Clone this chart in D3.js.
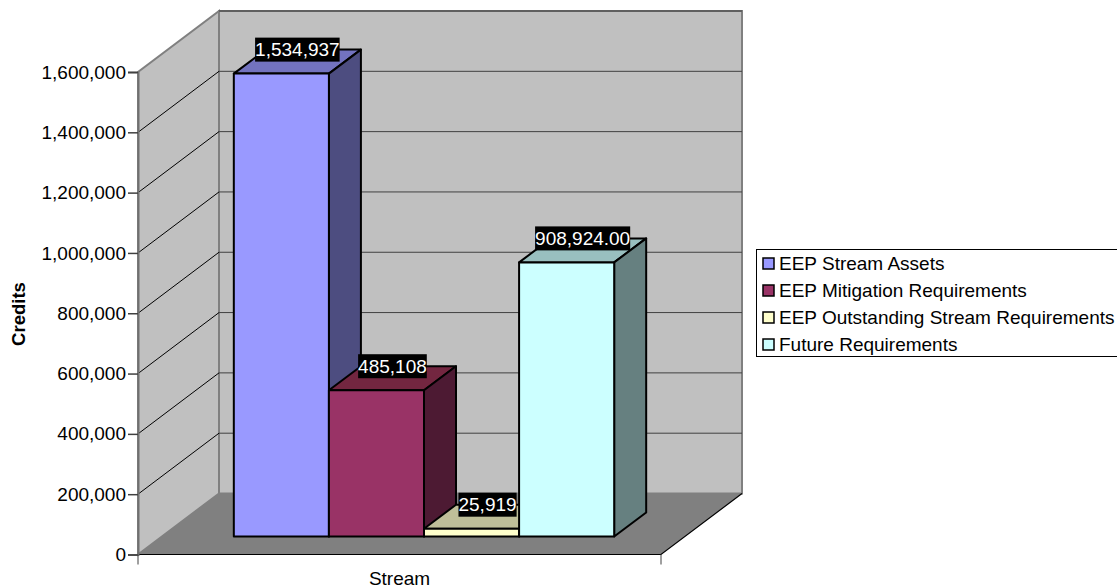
<!DOCTYPE html>
<html>
<head>
<meta charset="utf-8">
<script src="https://d3js.org/d3.v7.min.js"></script>
<style>
    html, body { margin: 0; padding: 0; background: #fff; }
    svg { display: block; }
    text { font-family: "Liberation Sans", Arial, sans-serif; fill: #000; }
</style>
</head>
<body>
<div id="chart"></div>
<script>
var seriesNames = ['EEP Stream Assets', 'EEP Mitigation Requirements', 'EEP Outstanding Stream Requirements', 'Future Requirements'];
var seriesValues = [1534937, 485108, 25919, 908924];
var valueLabels = ['1,534,937', '485,108', '25,919', '908,924.00'];
var seriesColors = ['#9999ff', '#993366', '#ffffcc', '#ccffff'];
var topColors = ['#7373bf', '#732640', '#bfbf99', '#99bfbf'];
var sideColors = ['#4d4d80', '#4d1a33', '#808066', '#668080'];
var yTicks = [0, 200000, 400000, 600000, 800000, 1000000, 1200000, 1400000, 1600000];
var categoryName = 'Stream';
var yTitle = 'Credits';

var width = 1117, height = 588;

// front plane of the box and how far the back wall is pushed
var plotLeft = 138, plotRight = 661, plotBottom = 554.5, plotTop = 72;
var wallDx = 81, wallDy = -61;
// bars stand a bit in from the front, and have their own depth
var barDx = 24.5, barDy = -18, depthDx = 32, depthDy = -24;

var svg = d3.select('#chart').append('svg')
    .attr('width', width)
    .attr('height', height);

var y = d3.scaleLinear().domain([0, 1600000]).range([plotBottom, plotTop]);
var x = d3.scaleBand().domain(seriesNames).range([plotLeft, plotRight])
    .paddingInner(0).paddingOuter(0.75);

function poly(pts) {
    return pts.map(function (p) { return p.join(','); }).join(' ');
}

// walls
svg.append('polygon')
    .attr('points', poly([[plotLeft, plotBottom], [plotLeft, plotTop], [plotLeft + wallDx, plotTop + wallDy], [plotLeft + wallDx, plotBottom + wallDy]]))
    .attr('fill', '#c0c0c0').attr('stroke', '#808080').attr('stroke-width', 2);
svg.append('rect')
    .attr('x', plotLeft + wallDx).attr('y', plotTop + wallDy)
    .attr('width', plotRight - plotLeft).attr('height', plotBottom - plotTop)
    .attr('fill', '#c0c0c0').attr('stroke', '#808080').attr('stroke-width', 2);

// floor
svg.append('polygon')
    .attr('points', poly([[plotLeft, plotBottom], [plotRight, plotBottom], [plotRight + wallDx, plotBottom + wallDy], [plotLeft + wallDx, plotBottom + wallDy]]))
    .attr('fill', '#808080');
svg.append('path')
    .attr('d', 'M' + plotLeft + ',' + plotBottom + 'H' + plotRight + 'L' + (plotRight + wallDx) + ',' + (plotBottom + wallDy))
    .attr('fill', 'none').attr('stroke', '#000').attr('stroke-width', 1.2);

// gridlines on both walls
var grid = yTicks.slice(1, -1);
svg.selectAll('.grid-side').data(grid).enter().append('line')
    .attr('class', 'grid-side')
    .attr('x1', plotLeft).attr('x2', plotLeft + wallDx)
    .attr('y1', function (d) { return y(d); })
    .attr('y2', function (d) { return y(d) + wallDy; })
    .attr('stroke', '#000').attr('stroke-width', 1);
svg.selectAll('.grid-back').data(grid.concat([1600000])).enter().append('line')
    .attr('class', 'grid-back')
    .attr('x1', plotLeft + wallDx).attr('x2', plotRight + wallDx)
    .attr('y1', function (d) { return y(d) + wallDy; })
    .attr('y2', function (d) { return y(d) + wallDy; })
    .attr('stroke', '#404040').attr('stroke-width', 1);

// bars
var bars = svg.selectAll('.bar')
    .data(seriesNames)
    .enter()
    .append('g')
    .attr('class', 'bar')
    .attr('stroke', '#000')
    .attr('stroke-width', 2)
    .attr('stroke-linejoin', 'round');

bars.append('polygon')
    .attr('points', function (d, i) {
        var x0 = x(d) + barDx, x1 = x0 + x.bandwidth(), t = y(seriesValues[i]) + barDy;
        return poly([[x0, t], [x0 + depthDx, t + depthDy], [x1 + depthDx, t + depthDy], [x1, t]]);
    })
    .attr('fill', function (d, i) { return topColors[i]; });

bars.append('polygon')
    .attr('points', function (d, i) {
        var x1 = x(d) + barDx + x.bandwidth(), t = y(seriesValues[i]) + barDy, b = y(0) + barDy;
        return poly([[x1, t], [x1 + depthDx, t + depthDy], [x1 + depthDx, b + depthDy], [x1, b]]);
    })
    .attr('fill', function (d, i) { return sideColors[i]; });

bars.append('rect')
    .attr('x', function (d) { return x(d) + barDx; })
    .attr('y', function (d, i) { return y(seriesValues[i]) + barDy; })
    .attr('width', x.bandwidth())
    .attr('height', function (d, i) { return y(0) - y(seriesValues[i]); })
    .attr('fill', function (d, i) { return seriesColors[i]; });

// value labels, black box behind white text
var labels = svg.selectAll('.value-label')
    .data(seriesNames)
    .enter()
    .append('g')
    .attr('class', 'value-label')
    .attr('transform', function (d, i) {
        var cx = x(d) + barDx + x.bandwidth() / 2 + depthDx / 2,
            cy = y(seriesValues[i]) + barDy + depthDy;
        return 'translate(' + cx + ',' + cy + ')';
    });
labels.append('text')
    .attr('text-anchor', 'middle')
    .attr('dy', 6.5)
    .style('font-size', '19px')
    .style('fill', '#fff')
    .text(function (d, i) { return valueLabels[i]; });
labels.insert('rect', 'text')
    .attr('fill', '#000')
    .each(function () {
        var b = this.parentNode.querySelector('text').getBBox();
        d3.select(this)
            .attr('x', b.x)
            .attr('width', b.width)
            .attr('y', -12)
            .attr('height', 24);
    });

// y axis
var yAxis = d3.axisLeft(y)
    .tickValues(yTicks)
    .tickSize(10)
    .tickPadding(2)
    .tickFormat(d3.format(','));
var yG = svg.append('g').attr('transform', 'translate(' + plotLeft + ',0)').call(yAxis);
yG.select('.domain').attr('stroke', '#707070').attr('stroke-width', 2);
yG.selectAll('.tick line').attr('stroke', '#404040').attr('stroke-width', 1.5);
yG.selectAll('text').style('font-size', '19px').style('font-family', '"Liberation Sans", Arial, sans-serif');

// x axis ticks are only at both ends
svg.selectAll('.x-tick').data([plotLeft, plotRight]).enter().append('line')
    .attr('class', 'x-tick')
    .attr('x1', function (d) { return d; }).attr('x2', function (d) { return d; })
    .attr('y1', plotBottom).attr('y2', plotBottom + 10)
    .attr('stroke', '#404040');

svg.append('text')
    .attr('x', (plotLeft + plotRight) / 2).attr('y', 585)
    .attr('text-anchor', 'middle')
    .style('font-size', '19px')
    .text(categoryName);

svg.append('text')
    .attr('transform', 'translate(25,314) rotate(-90)')
    .attr('text-anchor', 'middle')
    .style('font-size', '18.5px')
    .style('font-weight', 'bold')
    .text(yTitle);

// legend
var legend = svg.append('g');
legend.append('rect')
    .attr('x', 756.5).attr('y', 249.5)
    .attr('width', 380).attr('height', 107)
    .attr('fill', '#fff').attr('stroke', '#000');
var legendRow = d3.scaleBand().domain(seriesNames).range([250, 358]);
var rows = legend.selectAll('.row').data(seriesNames).enter().append('g')
    .attr('class', 'row')
    .attr('transform', function (d) {
        return 'translate(763,' + (legendRow(d) + legendRow.bandwidth() / 2) + ')';
    });
rows.append('rect')
    .attr('x', 0).attr('y', -5.5).attr('width', 11).attr('height', 11)
    .attr('fill', function (d, i) { return seriesColors[i]; })
    .attr('stroke', '#000').attr('stroke-width', 1.5);
rows.append('text')
    .attr('x', 16).attr('dy', 6.5)
    .style('font-size', '19px')
    .text(function (d) { return d; });
</script>
</body>
</html>
